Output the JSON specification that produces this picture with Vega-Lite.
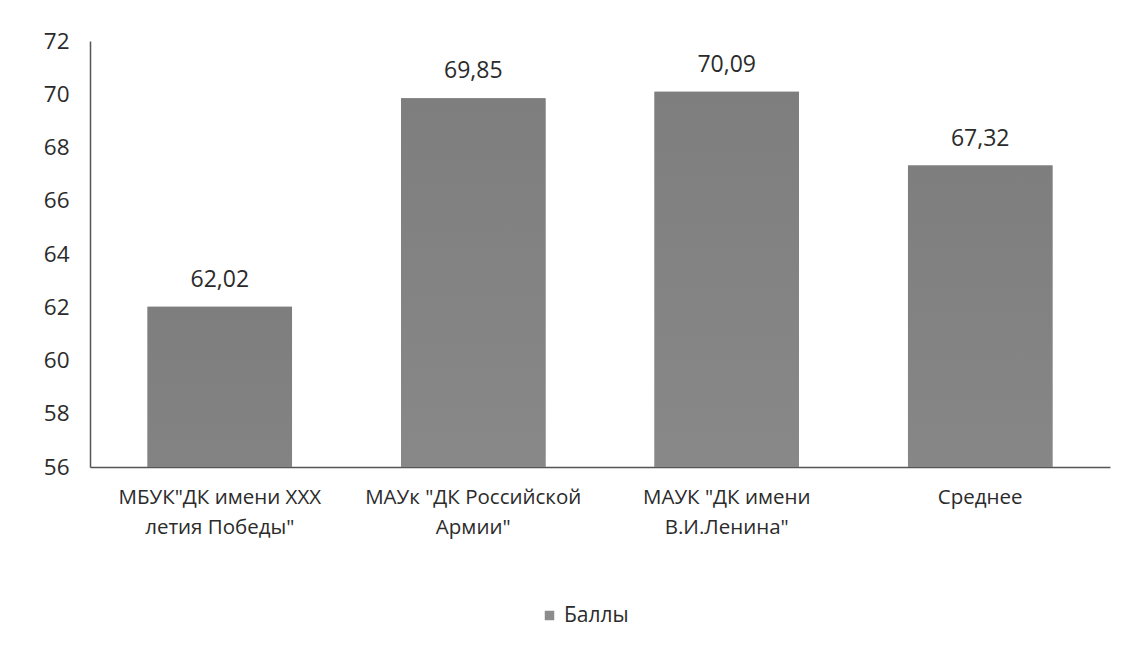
{
  "$schema": "https://vega.github.io/schema/vega-lite/v6.json",
  "width": 1020,
  "height": 426,
  "autosize": {"type": "none"},
  "padding": {"left": 90, "top": 41, "right": 36, "bottom": 186},
  "background": "white",
  "config": {
    "locale": {"number": {"decimal": ",", "thousands": " ", "grouping": [3], "currency": ["", ""]}},
    "font": "Open Sans",
    "view": {"stroke": null}
  },
  "data": {
    "values": [
      {"org": "МБУК\"ДК имени XXX|летия Победы\"", "value": 62.02, "series": "Баллы"},
      {"org": "МАУк \"ДК Российской|Армии\"", "value": 69.85, "series": "Баллы"},
      {"org": "МАУК \"ДК имени|В.И.Ленина\"", "value": 70.09, "series": "Баллы"},
      {"org": "Среднее", "value": 67.32, "series": "Баллы"}
    ]
  },
  "encoding": {
    "x": {
      "field": "org", "type": "nominal", "sort": null,
      "scale": {"paddingInner": 0.43, "paddingOuter": 0.227},
      "axis": {
        "title": null, "labelAngle": 0, "ticks": false,
        "domainColor": "#555555", "domainWidth": 1.5,
        "labelExpr": "split(datum.label, '|')",
        "labelFontSize": 20.5, "labelColor": "#2b2b2b", "labelLineHeight": 30,
        "labelPadding": 20, "labelLimit": 400
      }
    },
    "y": {
      "field": "value", "type": "quantitative",
      "scale": {"domain": [56, 72], "nice": false, "zero": false},
      "axis": {
        "title": null, "values": [56, 58, 60, 62, 64, 66, 68, 70, 72],
        "grid": false, "ticks": false, "domainColor": "#555555", "domainWidth": 1.5,
        "labelFontSize": 22.5, "labelColor": "#2b2b2b", "labelPadding": 21
      }
    }
  },
  "layer": [
    {
      "mark": {"type": "bar", "clip": true},
      "encoding": {
        "color": {
          "field": "series", "type": "nominal",
          "scale": {"range": ["#8c8c8c"]},
          "legend": {
            "title": null, "orient": "none", "legendX": 449, "legendY": 564,
            "symbolType": "square", "symbolSize": 90, "labelFontSize": 21,
            "labelColor": "#2b2b2b", "symbolStrokeWidth": 0
          }
        }
      }
    },
    {
      "mark": {
        "type": "bar", "clip": true,
        "fill": {
          "gradient": "linear", "x1": 0, "y1": 0, "x2": 0, "y2": 1,
          "stops": [
            {"offset": 0, "color": "#7e7e7e"},
            {"offset": 0.55, "color": "#9a9a9a"},
            {"offset": 1, "color": "#909090"}
          ]
        }
      },
      "encoding": {}
    },
    {
      "mark": {"type": "text", "dy": -27, "fontSize": 23, "color": "#2b2b2b", "baseline": "middle"},
      "encoding": {
        "text": {"field": "value", "type": "quantitative", "format": ".2f"}
      }
    }
  ]
}
